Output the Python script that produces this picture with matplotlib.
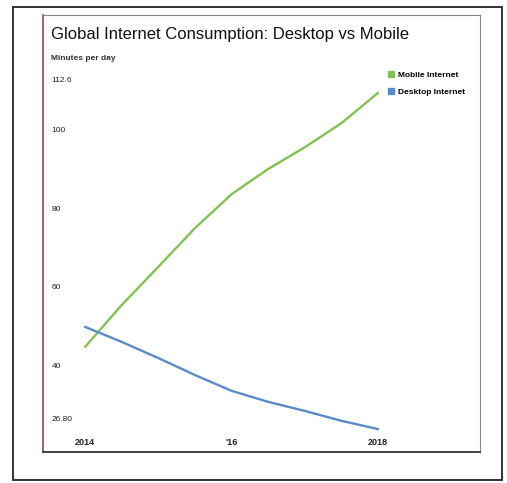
import matplotlib.pyplot as plt
from matplotlib.lines import Line2D
from matplotlib.patches import Rectangle

plt.rcParams['font.family'] = ['Liberation Sans', 'DejaVu Sans']

# half-yearly readings, minutes per day
years = [2014, 2014.5, 2015, 2015.5, 2016, 2016.5, 2017, 2017.5, 2018]
mobile = [44.8, 55.4, 65.1, 74.9, 83.5, 89.9, 95.4, 101.5, 109.2]
desktop = [49.9, 46.1, 42.0, 37.7, 33.7, 30.9, 28.6, 26.1, 24.0]

x_ticks = [2014, 2016, 2018]
x_labels = ['2014', "'16", '2018']
y_ticks = [26.8, 40, 60, 80, 100, 112.6]
y_labels = ['26.80', '40', '60', '80', '100', '112.6']

green = '#80c24f'
blue = '#5a8ac8'

W, H = 507, 483
fig = plt.figure(figsize=(W / 100, H / 100), dpi=100)

# inner chart frame = axes
ax = fig.add_axes([43 / W, 1 - 452 / H, (480 - 43) / W, (452 - 15) / H])
ax.plot(years, mobile, color=green, lw=1.7, solid_capstyle='round')
ax.plot(years, desktop, color=blue, lw=1.7, solid_capstyle='round')

ax.set_xlim(2013.427, 2019.39)
ax.set_ylim(18.2, 128.9)

ax.set_xticks(x_ticks)
ax.set_xticklabels(x_labels, fontsize=6.5, fontweight='bold', color='#222222')
ax.set_yticks(y_ticks)
ax.set_yticklabels(y_labels, fontsize=6, color='#222222')
ax.tick_params(axis='x', length=0, pad=-6.5)
ax.tick_params(axis='y', length=0, pad=-6)
for lab in ax.get_yticklabels():
    lab.set_ha('left')
for lab in ax.get_xticklabels():
    lab.set_va('center')

ax.spines['left'].set_color('#8a5a8e')
ax.spines['left'].set_linewidth(1.3)
ax.spines['bottom'].set_color('#333333')
ax.spines['bottom'].set_linewidth(1.3)
for s in ['top', 'right']:
    ax.spines[s].set_color('#888888')
    ax.spines[s].set_linewidth(0.8)

handles = [Line2D([], [], marker='s', ls='', color=green, markersize=5),
           Line2D([], [], marker='s', ls='', color=blue, markersize=5)]
leg = fig.legend(handles, ['Mobile Internet', 'Desktop Internet'],
                 loc='upper left', bbox_to_anchor=(388 / W, 1 - 71 / H),
                 frameon=False, prop={'size': 6, 'weight': 'bold'},
                 handlelength=0.8, handletextpad=0.4, labelspacing=1.1,
                 borderpad=0, borderaxespad=0)

fig.text(51 / W, 1 - 35 / H, 'Global Internet Consumption: Desktop vs Mobile',
         fontsize=12, va='center', ha='left', color='#111111')
fig.text(51 / W, 1 - 58 / H, 'Minutes per day', fontsize=6, fontweight='bold',
         va='center', ha='left', color='#333333')

# outer paper border
fig.patches.append(Rectangle((13 / W, 3 / H), 489 / W, 473 / H,
                             transform=fig.transFigure, fill=False,
                             edgecolor='#222222', lw=1.3))

fig.savefig('out.png', dpi=100)
